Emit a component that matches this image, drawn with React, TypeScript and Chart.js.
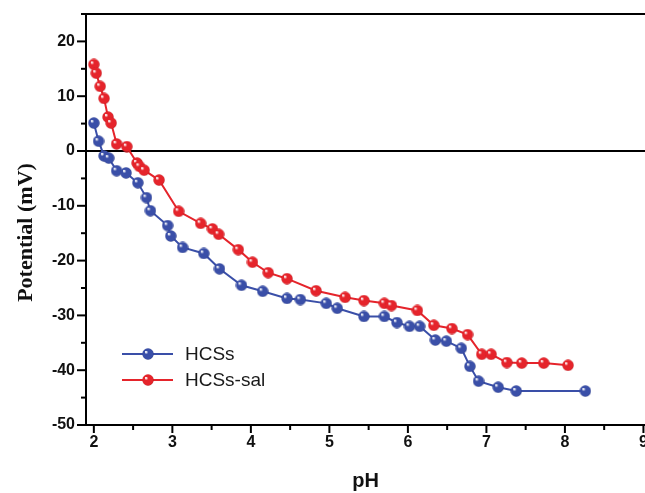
import React, { useEffect, useRef } from "react";
import { Chart, registerables } from "chart.js";

Chart.register(...registerables);

// HCSs
const phHCSs = [2.0, 2.06, 2.13, 2.19, 2.29, 2.41, 2.56, 2.67, 2.72, 2.94, 2.98, 3.13, 3.4, 3.6, 3.88, 4.15, 4.46, 4.63, 4.96, 5.1, 5.44, 5.7, 5.86, 6.02, 6.15, 6.35, 6.49, 6.68, 6.79, 6.9, 7.15, 7.38, 8.26];
const potHCSs = [5.1, 1.8, -0.9, -1.3, -3.6, -4.0, -5.8, -8.5, -10.9, -13.6, -15.5, -17.6, -18.7, -21.5, -24.5, -25.6, -26.9, -27.1, -27.8, -28.7, -30.2, -30.2, -31.3, -32.0, -32.0, -34.5, -34.7, -36.0, -39.3, -42.0, -43.1, -43.8, -43.8];

// HCSs-sal
const phSal = [2.0, 2.03, 2.08, 2.13, 2.18, 2.22, 2.29, 2.42, 2.55, 2.58, 2.64, 2.83, 3.08, 3.36, 3.51, 3.59, 3.84, 4.02, 4.22, 4.46, 4.83, 5.2, 5.44, 5.7, 5.79, 6.12, 6.33, 6.56, 6.76, 6.94, 7.06, 7.26, 7.45, 7.73, 8.04];
const potSal = [15.8, 14.2, 11.8, 9.6, 6.2, 5.1, 1.3, 0.8, -2.2, -2.8, -3.5, -5.3, -11.0, -13.2, -14.2, -15.2, -18.0, -20.3, -22.2, -23.3, -25.5, -26.7, -27.3, -27.8, -28.2, -29.1, -31.8, -32.4, -33.5, -37.1, -37.1, -38.6, -38.7, -38.7, -39.1];

const seriesNames = ["HCSs", "HCSs-sal"];
const xTitle = "pH";
const yTitle = "Potential (mV)";
const xMajorStep = 1;
const yMajorStep = 10;

const BLUE = "#3a4fa8";
const RED = "#e5242b";

function sphere(color: string, dark: string, size: number) {
  const c = document.createElement("canvas");
  c.width = size;
  c.height = size;
  const g = c.getContext("2d")!;
  const r = size / 2;
  const grad = g.createRadialGradient(r - r * 0.35, r - r * 0.35, 0.5, r, r, r);
  grad.addColorStop(0, "#ffffff");
  grad.addColorStop(0.25, color);
  grad.addColorStop(0.85, color);
  grad.addColorStop(1, dark);
  g.fillStyle = grad;
  g.beginPath();
  g.arc(r, r, r - 0.3, 0, Math.PI * 2);
  g.fill();
  return c;
}

export default function App() {
  const ref = useRef<HTMLCanvasElement>(null);

  useEffect(() => {
    if (!ref.current) return;
    const blueBall = sphere(BLUE, "#26347a", 12);
    const redBall = sphere(RED, "#a8151a", 12);

    const framePlugin = {
      id: "frame",
      beforeDatasetsDraw(chart: any) {
        const { ctx, chartArea } = chart;
        const ys = chart.scales.y;
        ctx.save();
        ctx.strokeStyle = "#000";
        ctx.lineWidth = 2;
        const y0 = ys.getPixelForValue(0);
        ctx.beginPath();
        ctx.moveTo(chartArea.left, y0);
        ctx.lineTo(chartArea.right, y0);
        ctx.stroke();
        ctx.beginPath();
        ctx.moveTo(chartArea.left - 1, chartArea.top);
        ctx.lineTo(chartArea.right, chartArea.top);
        ctx.stroke();
        ctx.restore();
      },
      afterDraw(chart: any) {
        const { ctx, chartArea } = chart;
        const xs = chart.scales.x;
        const ys = chart.scales.y;
        ctx.save();
        ctx.strokeStyle = "#000";
        ctx.lineWidth = 2;
        xs.ticks.forEach((t: any) => {
          const major = Math.abs(t.value / xMajorStep - Math.round(t.value / xMajorStep)) < 1e-6;
          const px = xs.getPixelForValue(t.value);
          ctx.beginPath();
          ctx.moveTo(px, chartArea.bottom);
          ctx.lineTo(px, chartArea.bottom + (major ? 8 : 5));
          ctx.stroke();
        });
        ys.ticks.forEach((t: any) => {
          const major = Math.abs(t.value / yMajorStep - Math.round(t.value / yMajorStep)) < 1e-6;
          const py = ys.getPixelForValue(t.value);
          ctx.beginPath();
          ctx.moveTo(chartArea.left, py);
          ctx.lineTo(chartArea.left - (major ? 9 : 5), py);
          ctx.stroke();
        });
        // axis titles
        ctx.fillStyle = "#111";
        ctx.textAlign = "center";
        ctx.textBaseline = "middle";
        ctx.font = "bold 20px 'Liberation Sans', Arial, sans-serif";
        ctx.fillText(xTitle, (chartArea.left + chartArea.right) / 2, chartArea.bottom + 56);
        ctx.save();
        ctx.translate(chartArea.left - 60, (chartArea.top + chartArea.bottom) / 2 + 13);
        ctx.rotate(-Math.PI / 2);
        ctx.font = "bold 22px 'Liberation Serif', 'Times New Roman', serif";
        ctx.fillText(yTitle, 0, 0);
        ctx.restore();
        // legend
        const items = [
          { name: seriesNames[0], color: BLUE, ball: blueBall },
          { name: seriesNames[1], color: RED, ball: redBall },
        ];
        const lx = chartArea.left + 36;
        let ly = chartArea.top + 340;
        ctx.font = "19px 'Liberation Sans', Arial, sans-serif";
        ctx.textBaseline = "middle";
        ctx.textAlign = "left";
        items.forEach((it) => {
          ctx.strokeStyle = it.color;
          ctx.lineWidth = 2;
          ctx.beginPath();
          ctx.moveTo(lx, ly);
          ctx.lineTo(lx + 51, ly);
          ctx.stroke();
          ctx.drawImage(it.ball, lx + 26 - 6, ly - 6);
          ctx.fillStyle = "#1a1a1a";
          ctx.fillText(it.name, lx + 63, ly + 1);
          ly += 26;
        });
        ctx.restore();
      },
    };

    const tickFont = { family: "'Liberation Sans', Arial, sans-serif", size: 16, weight: "bold" as const };

    const chart = new Chart(ref.current, {
      type: "scatter",
      data: {
        datasets: [
          {
            label: seriesNames[0],
            data: phHCSs.map((x, i) => ({ x, y: potHCSs[i] })),
            showLine: true,
            borderColor: BLUE,
            borderWidth: 2,
            pointStyle: blueBall as any,
            pointRadius: 6,
          },
          {
            label: seriesNames[1],
            data: phSal.map((x, i) => ({ x, y: potSal[i] })),
            showLine: true,
            borderColor: RED,
            borderWidth: 2,
            pointStyle: redBall as any,
            pointRadius: 6,
          },
        ],
      },
      options: {
        animation: false,
        responsive: false,
        events: [],
        layout: { padding: { top: 14, left: 0, right: 0, bottom: 0 }, autoPadding: false },
        plugins: { legend: { display: false }, tooltip: { enabled: false }, title: { display: false } },
        scales: {
          x: {
            type: "linear",
            min: 1.9,
            max: 9.02,
            afterFit: (s: any) => {
              s.height = 68;
              s.paddingLeft = 0;
              s.paddingRight = 0;
            },
            grid: { display: false, drawTicks: false },
            border: { display: true, color: "#000", width: 2 },
            ticks: {
              stepSize: 0.5,
              includeBounds: false,
              autoSkip: false,
              maxRotation: 0,
              padding: 8,
              color: "#111",
              font: tickFont,
              callback: (v: any) => (Math.abs(v - Math.round(v)) < 1e-6 ? String(Math.round(v)) : ""),
            },
          },
          y: {
            type: "linear",
            min: -50,
            max: 25,
            afterFit: (s: any) => {
              s.width = 86;
              s.paddingTop = 0;
              s.paddingBottom = 0;
            },
            grid: { display: false, drawTicks: false },
            border: { display: true, color: "#000", width: 2 },
            ticks: {
              stepSize: 5,
              includeBounds: false,
              autoSkip: false,
              padding: 11,
              color: "#111",
              font: tickFont,
              callback: (v: any) => (Math.abs(v / 10 - Math.round(v / 10)) < 1e-6 ? String(v) : ""),
            },
          },
        },
      },
      plugins: [framePlugin],
    });
    return () => chart.destroy();
  }, []);

  return (
    <div style={{ position: "absolute", left: 0, top: 0, width: 645, height: 493, background: "#fff" }}>
      <canvas ref={ref} width={645} height={493} style={{ display: "block", width: 645, height: 493 }} />
    </div>
  );
}
